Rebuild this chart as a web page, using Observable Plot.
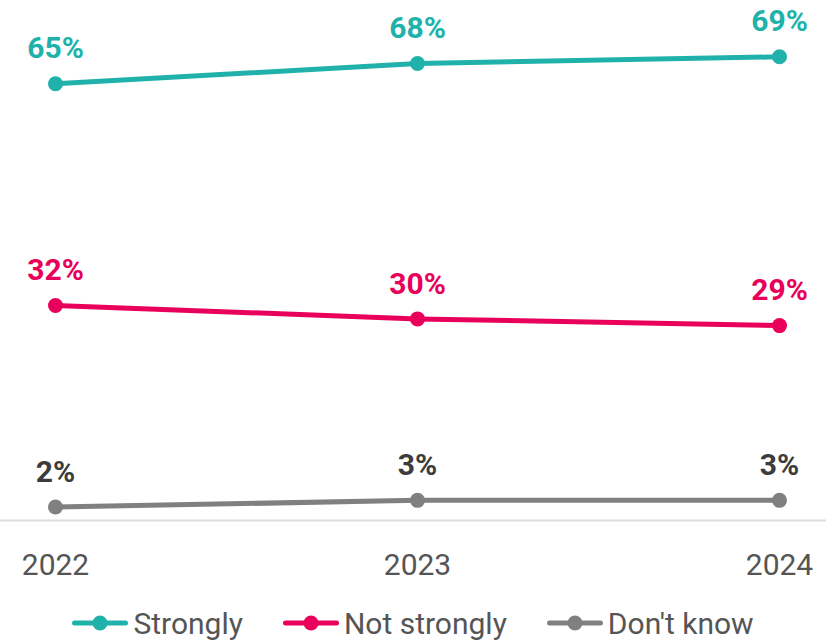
<!DOCTYPE html>
<html>
<head>
<meta charset="utf-8">
<script src="https://cdn.jsdelivr.net/npm/d3@7"></script>
<script src="https://cdn.jsdelivr.net/npm/@observablehq/plot@0.6"></script>
<style>
  html, body { margin: 0; padding: 0; background: #fff; }
  body { width: 826px; height: 641px; overflow: hidden; font-family: Roboto, "Noto Sans", sans-serif; }
  #legend { display: flex; justify-content: center; align-items: center; height: 38px; gap: 0; font-size: 30px; color: #555; }
  .item { display: flex; align-items: center; margin: 0 20px; }
  .item svg { margin-right: 5px; }
</style>
</head>
<body>
<div id="chart"></div>
<div id="legend"></div>
<script>
const years = [2022, 2023, 2024];
const seriesNames = ["Strongly", "Not strongly", "Don't know"];
const strongly = [65, 68, 69];
const notStrongly = [32, 30, 29];
const dontKnow = [2, 3, 3];
const lineColors = ["#20b2aa", "#e8005a", "#808080"];
const labelColors = ["#20b2aa", "#e8005a", "#3c3c3c"];

const valuesBySeries = [strongly, notStrongly, dontKnow];
const data = [];
seriesNames.forEach((s, i) => years.forEach((y, j) => data.push({series: s, year: y, value: valuesBySeries[i][j]})));

const chart = Plot.plot({
  width: 826,
  height: 604,
  marginTop: 16,
  marginBottom: 84,
  marginLeft: 55,
  marginRight: 47,
  style: {fontFamily: "Roboto, sans-serif", background: "#fff"},
  x: {type: "point", domain: years, padding: 0, label: null, tickSize: 0, tickPadding: 33, tickFormat: d => String(d)},
  y: {domain: [0, 75], axis: null},
  color: {domain: seriesNames, range: lineColors},
  marks: [
    Plot.ruleY([0], {stroke: "#dddddd", strokeWidth: 2, insetLeft: -55, insetRight: -47}),
    Plot.axisX({tickSize: 0, tickPadding: 33, fontSize: 30, fill: "#555", tickFormat: d => String(d)}),
    Plot.line(data, {x: "year", y: "value", z: "series", stroke: "series", strokeWidth: 5, strokeLinecap: "round"}),
    Plot.dot(data, {x: "year", y: "value", fill: "series", r: 7.5}),
    Plot.text(data, {x: "year", y: "value", text: d => d.value + "%", dy: -35, fontSize: 30, fontWeight: "bold",
      fill: d => labelColors[seriesNames.indexOf(d.series)]})
  ]
});
document.getElementById("chart").appendChild(chart);

const legend = d3.select("#legend");
seriesNames.forEach((s, i) => {
  const item = legend.append("div").attr("class", "item");
  const svg = item.append("svg").attr("width", 56).attr("height", 16);
  svg.append("line").attr("x1", 2.5).attr("x2", 53.5).attr("y1", 8).attr("y2", 8)
    .attr("stroke", lineColors[i]).attr("stroke-width", 5).attr("stroke-linecap", "round");
  svg.append("circle").attr("cx", 28).attr("cy", 8).attr("r", 7.5).attr("fill", lineColors[i]);
  item.append("span").text(s);
});
</script>
</body>
</html>
